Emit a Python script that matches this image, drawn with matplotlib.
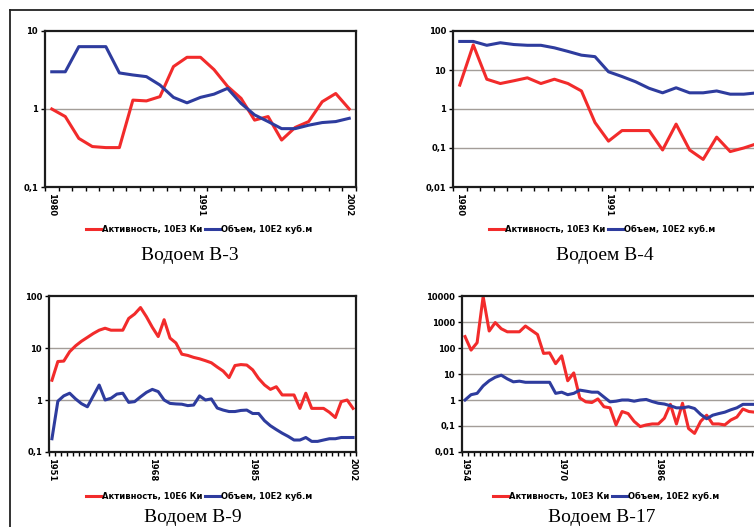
import matplotlib
matplotlib.use("Agg")
import matplotlib.pyplot as plt
from matplotlib.lines import Line2D
import numpy as np

W, H = 754, 527

# --- data ---
years_b3 = list(range(1980, 2003))
act_b3 = [1.0, 0.8, 0.42, 0.33, 0.32, 0.32, 1.3, 1.27, 1.44, 3.5, 4.6, 4.6,
          3.2, 1.95, 1.37, 0.72, 0.8, 0.4, 0.58, 0.69, 1.24, 1.58, 1.0]
vol_b3 = [3.0, 3.0, 6.3, 6.3, 6.3, 2.9, 2.73, 2.6, 2.03, 1.41, 1.2, 1.41,
          1.55, 1.84, 1.18, 0.84, 0.69, 0.56, 0.56, 0.62, 0.67, 0.69, 0.76]

years_b4 = list(range(1980, 2003))
act_b4 = [4.1, 44, 5.8, 4.5, 5.3, 6.3, 4.5, 5.8, 4.5, 2.9, 0.45, 0.15,
          0.28, 0.28, 0.28, 0.089, 0.41, 0.089, 0.051, 0.19, 0.081, 0.1, 0.13]
vol_b4 = [54, 54, 43, 50, 45, 43, 43, 37, 30, 24, 22, 9.0,
          6.8, 5.0, 3.4, 2.6, 3.5, 2.6, 2.6, 2.9, 2.4, 2.4, 2.6]

years_b9 = list(range(1951, 2003))
act_b9 = [2.4, 5.5, 5.6, 8.5, 11, 13.5, 16, 19, 22, 24, 22, 22, 22, 37, 45,
          60, 40, 25, 16.6, 35, 15.5, 12.5, 7.6, 7.2, 6.6, 6.2, 5.7, 5.2, 4.3,
          3.6, 2.7, 4.6, 4.8, 4.7, 3.8, 2.6, 1.95, 1.6, 1.8, 1.25, 1.25, 1.25,
          0.69, 1.35, 0.69, 0.69, 0.69, 0.58, 0.46, 0.93, 1.0, 0.69]
vol_b9 = [0.18, 0.95, 1.2, 1.35, 1.05, 0.85, 0.74, 1.2, 1.94, 1.0, 1.08, 1.3,
          1.35, 0.9, 0.93, 1.15, 1.4, 1.6, 1.45, 1.0, 0.86, 0.84, 0.83, 0.78,
          0.8, 1.2, 1.0, 1.05, 0.7, 0.64, 0.6, 0.6, 0.63, 0.64, 0.55, 0.55,
          0.4, 0.32, 0.27, 0.23, 0.2, 0.17, 0.17, 0.19, 0.16, 0.16, 0.17, 0.18,
          0.18, 0.19, 0.19, 0.19]

years_b17 = list(range(1954, 2003))
act_b17 = [275, 83, 160, 9500, 450, 950, 550, 420, 420, 420, 700, 480, 330,
           62, 65, 25, 50, 5.5, 11, 1.2, 0.85, 0.8, 1.1, 0.55, 0.5, 0.11, 0.36,
           0.3, 0.15, 0.095, 0.11, 0.12, 0.12, 0.2, 0.68, 0.12, 0.75, 0.08,
           0.052, 0.15, 0.26, 0.12, 0.12, 0.11, 0.17, 0.22, 0.45, 0.36, 0.34]
vol_b17 = [1.0, 1.6, 1.8, 3.5, 5.5, 7.5, 9.0, 6.5, 5.0, 5.3, 4.8, 4.8, 4.8,
           4.8, 4.8, 1.8, 2.0, 1.6, 1.8, 2.4, 2.2, 2.0, 2.0, 1.3, 0.85, 0.9,
           1.0, 1.0, 0.9, 1.0, 1.05, 0.87, 0.75, 0.7, 0.6, 0.5, 0.5, 0.55,
           0.47, 0.28, 0.19, 0.26, 0.3, 0.34, 0.42, 0.5, 0.68, 0.68, 0.68]

panels = [
    dict(years=years_b3, act=act_b3, vol=vol_b3, ylim=(0.1, 10),
         yticks=[0.1, 1, 10], ylabels=["0,1", "1", "10"],
         xlabels=[1980, 1991, 2002], box=(45, 356, 31, 187),
         act_label="Активность, 10E3 Ки", leg=(199, 229),
         title="Водоем В-3", cap=(190, 255)),
    dict(years=years_b4, act=act_b4, vol=vol_b4, ylim=(0.01, 100),
         yticks=[0.01, 0.1, 1, 10, 100],
         ylabels=["0,01", "0,1", "1", "10", "100"],
         xlabels=[1980, 1991, 2002], box=(453, 764, 31, 187),
         act_label="Активность, 10E3 Ки", leg=(602, 229),
         title="Водоем В-4", cap=(605, 255)),
    dict(years=years_b9, act=act_b9, vol=vol_b9, ylim=(0.1, 100),
         yticks=[0.1, 1, 10, 100], ylabels=["0,1", "1", "10", "100"],
         xlabels=[1951, 1968, 1985, 2002], box=(49, 356, 296, 452),
         act_label="Активность, 10E6 Ки", leg=(199, 496),
         title="Водоем В-9", cap=(193, 518)),
    dict(years=years_b17, act=act_b17, vol=vol_b17, ylim=(0.01, 10000),
         yticks=[0.01, 0.1, 1, 10, 100, 1000, 10000],
         ylabels=["0,01", "0,1", "1", "10", "100", "1000", "10000"],
         xlabels=[1954, 1970, 1986, 2002], box=(462, 758, 296, 452),
         act_label="Активность, 10E3 Ки", leg=(606, 496),
         title="Водоем В-17", cap=(602, 518)),
]

red = "#f22b2b"
blue = "#2e3c9e"

fig = plt.figure(figsize=(W / 100, H / 100), dpi=100)
fig.patch.set_facecolor("white")

for p in panels:
    l, r, t, b = p["box"]
    ax = fig.add_axes([l / W, 1 - b / H, (r - l) / W, (b - t) / H])
    n = len(p["years"])
    x = np.arange(n)
    ax.plot(x, p["act"], color=red, lw=2.2, solid_joinstyle="round")
    ax.plot(x, p["vol"], color=blue, lw=2.2, solid_joinstyle="round")
    ax.set_yscale("log")
    ax.set_ylim(*p["ylim"])
    ax.set_xlim(-0.5, n - 0.5)
    ax.set_yticks(p["yticks"])
    ax.set_yticklabels(p["ylabels"], fontsize=6, fontweight="bold")
    ax.yaxis.set_minor_locator(matplotlib.ticker.NullLocator())
    for yv in p["yticks"][1:-1]:
        ax.axhline(yv, color="#a39d98", lw=1.0, zorder=0)
    pos = [p["years"].index(y) for y in p["xlabels"]]
    ax.set_xticks(pos)
    ax.set_xticklabels([str(y) for y in p["xlabels"]], rotation=-90,
                       fontsize=6, fontweight="bold")
    ax.set_xticks(np.arange(-0.5, n, 1.0), minor=True)
    ax.tick_params(axis="x", which="major", length=0, pad=4)
    ax.tick_params(axis="x", which="minor", length=3, width=1, direction="out")
    ax.tick_params(axis="y", which="major", length=3, width=1, pad=2)
    for s in ax.spines.values():
        s.set_linewidth(1.6)
        s.set_color("#1c1c1c")

    handles = [Line2D([], [], color=red, lw=2.2),
               Line2D([], [], color=blue, lw=2.2)]
    fig.legend(handles, [p["act_label"], "Объем, 10E2 куб.м"],
               loc="center", bbox_to_anchor=(p["leg"][0] / W, 1 - p["leg"][1] / H),
               ncol=2, frameon=False, handlelength=1.8, handletextpad=0.1,
               columnspacing=0.3, prop=dict(size=6, weight="bold"))
    fig.text(p["cap"][0] / W, 1 - p["cap"][1] / H, p["title"],
             ha="center", va="center", fontsize=14, family="Liberation Serif")

# outer frame (left and top edges visible in the cropped scan)
fig.add_artist(Line2D([10 / W, 10 / W], [0, 1 - 10 / H], color="#222222", lw=1.3))
fig.add_artist(Line2D([10 / W, 1], [1 - 10 / H, 1 - 10 / H], color="#222222", lw=1.3))

fig.savefig("out.png", dpi=100)
